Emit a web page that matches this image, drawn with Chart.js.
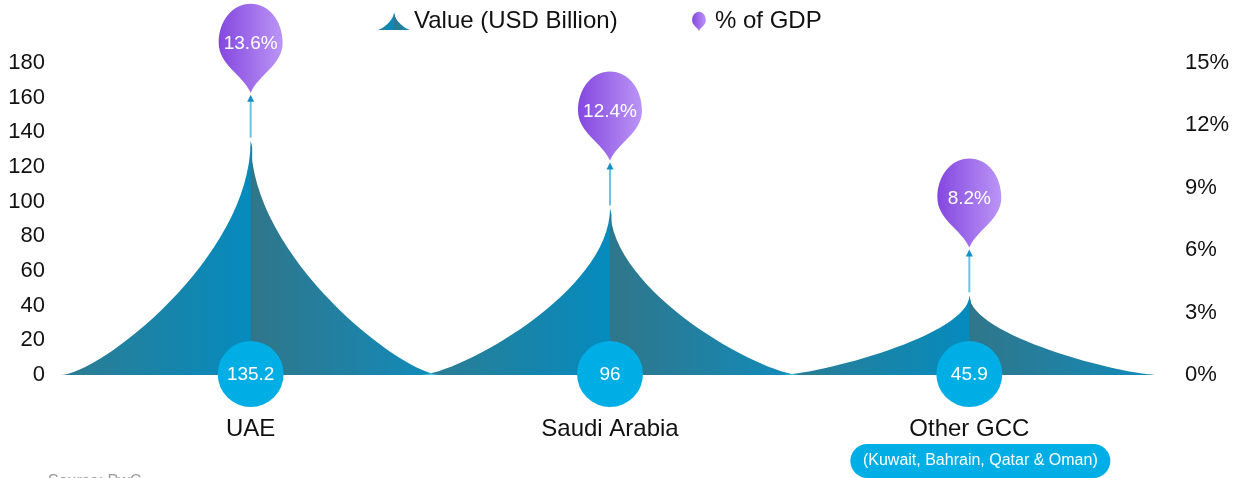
<!DOCTYPE html>
<html>
<head>
<meta charset="utf-8">
<script src="https://cdn.jsdelivr.net/npm/chart.js@4.4.1/dist/chart.umd.min.js"></script>
<style>
html,body{margin:0;padding:0;background:#fff;overflow:hidden}
#wrap{position:relative;width:1251px;height:478px}
</style>
</head>
<body>
<div id="wrap"><canvas id="c" width="1251" height="478"></canvas></div>
<script>
const categories = ['UAE', 'Saudi Arabia', 'Other GCC'];
const subLabels = ['', '', '(Kuwait, Bahrain, Qatar & Oman)'];
const valueUSDbn = [135.2, 96, 45.9];
const gdpShare = [13.6, 12.4, 8.2];
const seriesNames = ['Value (USD Billion)', '% of GDP'];
const leftTicks = [0, 20, 40, 60, 80, 100, 120, 140, 160, 180];
const rightTicks = [0, 3, 6, 9, 12, 15];
const sourceNote = 'Source: PwC';

const FONT = '"Liberation Sans", Arial, Helvetica, sans-serif';
const TEXT = '#111111';
const CYAN = '#00aee6';

function spikeHalf(ctx, x, top, base, hw, dir, c0, c1) {
  const h = base - top;
  const ex = x + dir * hw;
  ctx.beginPath();
  ctx.moveTo(ex, base);
  ctx.bezierCurveTo(ex - dir * 0.2 * hw, base, x, base - 0.5 * h, x, top);
  if (dir < 0) {
    // extend under the right half so no seam shows between the halves
    ctx.lineTo(x + 1.5, top + 6);
    ctx.lineTo(x + 1.5, base);
  }
  ctx.lineTo(x, base);
  ctx.closePath();
  const g = ctx.createLinearGradient(ex, 0, x, 0);
  g.addColorStop(0, c0);
  g.addColorStop(1, c1);
  ctx.fillStyle = g;
  ctx.fill();
}
function drawSpike(ctx, x, top, base, hw) {
  spikeHalf(ctx, x, top, base, hw, -1, 'rgb(46,124,145)', 'rgb(5,139,190)');
  spikeHalf(ctx, x, top, base, hw, 1, 'rgb(16,140,188)', 'rgb(48,118,138)');
}
function drawBalloon(ctx, cx, tip, s) {
  const hw = 32 * s, cy = tip - 50 * s, top = tip - 89 * s;
  ctx.beginPath();
  ctx.moveTo(cx, tip);
  ctx.bezierCurveTo(cx + 8 * s, tip - 18 * s, cx + hw, cy + 22 * s, cx + hw, cy);
  ctx.bezierCurveTo(cx + hw, cy - 22 * s, cx + 18 * s, top, cx, top);
  ctx.bezierCurveTo(cx - 18 * s, top, cx - hw, cy - 22 * s, cx - hw, cy);
  ctx.bezierCurveTo(cx - hw, cy + 22 * s, cx - 8 * s, tip - 18 * s, cx, tip);
  ctx.closePath();
  const g = ctx.createLinearGradient(cx - hw, 0, cx + hw, 0);
  g.addColorStop(0, '#8447df');
  g.addColorStop(1, '#bb95f6');
  ctx.fillStyle = g;
  ctx.fill();
  return cy;
}
function roundRect(ctx, x, y, w, h, r) {
  ctx.beginPath();
  ctx.moveTo(x + r, y);
  ctx.lineTo(x + w - r, y);
  ctx.arc(x + w - r, y + r, r, -Math.PI / 2, Math.PI / 2);
  ctx.lineTo(x + r, y + h);
  ctx.arc(x + r, y + r, r, Math.PI / 2, Math.PI * 1.5);
  ctx.closePath();
}

const decor = {
  id: 'decor',
  afterDatasetsDraw(chart) {
    const ctx = chart.ctx;
    const meta = chart.getDatasetMeta(0);
    const W = chart.width, H = chart.height;
    ctx.save();
    ctx.globalCompositeOperation = 'screen';
    meta.data.forEach((bar) => {
      const off = document.createElement('canvas');
      off.width = W; off.height = H;
      const octx = off.getContext('2d');
      drawSpike(octx, bar.x, bar.y, bar.base, bar.width * 0.53);
      ctx.drawImage(off, 0, 0);
    });
    ctx.restore();

    ctx.save();
    meta.data.forEach((bar, i) => {
      const x = bar.x, y = bar.y;
      ctx.strokeStyle = '#6cc4e4';
      ctx.lineWidth = 2;
      ctx.beginPath();
      ctx.moveTo(x, y - 3);
      ctx.lineTo(x, y - 40);
      ctx.stroke();
      ctx.fillStyle = '#1b8fc2';
      ctx.beginPath();
      ctx.moveTo(x, y - 46);
      ctx.lineTo(x + 3.5, y - 39);
      ctx.lineTo(x - 3.5, y - 39);
      ctx.closePath();
      ctx.fill();
      const cy = drawBalloon(ctx, x, y - 48, 1);
      ctx.fillStyle = '#ffffff';
      ctx.font = '19px ' + FONT;
      ctx.textAlign = 'center';
      ctx.textBaseline = 'middle';
      ctx.fillText(gdpShare[i] + '%', x, cy + 1);
      ctx.fillStyle = CYAN;
      ctx.beginPath();
      ctx.arc(x, bar.base - 1, 33, 0, Math.PI * 2);
      ctx.fill();
      ctx.fillStyle = '#ffffff';
      ctx.font = '19px ' + FONT;
      ctx.fillText(String(valueUSDbn[i]), x, bar.base);
      if (subLabels[i]) {
        ctx.font = '16px ' + FONT;
        const pw = 260, ph = 34, px = x + 11 - pw / 2, py = 444;
        ctx.fillStyle = CYAN;
        roundRect(ctx, px, py, pw, ph, ph / 2);
        ctx.fill();
        ctx.fillStyle = '#ffffff';
        ctx.fillText(subLabels[i], x + 11, py + 17);
      }
    });
    ctx.restore();
  },
  afterDraw(chart) {
    const ctx = chart.ctx;
    ctx.save();
    drawSpike(ctx, 394, 12, 30, 16.5);
    ctx.fillStyle = TEXT;
    ctx.font = '24px ' + FONT;
    ctx.textAlign = 'left';
    ctx.textBaseline = 'middle';
    ctx.fillText(seriesNames[0], 414, 21);
    drawBalloon(ctx, 699, 31, 0.215);
    ctx.fillStyle = TEXT;
    ctx.fillText(seriesNames[1], 715, 21);
    ctx.fillStyle = '#9a9a9a';
    ctx.font = '16px ' + FONT;
    ctx.textBaseline = 'top';
    ctx.fillText(sourceNote, 48, 474);
    ctx.restore();
  }
};

new Chart(document.getElementById('c'), {
  data: {
    labels: categories,
    datasets: [
      {
        type: 'bar',
        label: seriesNames[0],
        data: valueUSDbn,
        yAxisID: 'y',
        backgroundColor: 'rgba(0,0,0,0)',
        borderWidth: 0,
        barPercentage: 1,
        categoryPercentage: 1
      },
      {
        type: 'line',
        label: seriesNames[1],
        data: gdpShare,
        yAxisID: 'y1',
        showLine: false,
        pointRadius: 0,
        borderColor: 'rgba(0,0,0,0)',
        backgroundColor: 'rgba(0,0,0,0)'
      }
    ]
  },
  options: {
    responsive: false,
    animation: false,
    events: [],
    devicePixelRatio: 1,
    layout: { padding: { top: 63, left: 0, right: 0, bottom: 0 } },
    plugins: { legend: { display: false }, tooltip: { enabled: false } },
    scales: {
      x: {
        type: 'category',
        grid: { display: false },
        border: { display: false },
        ticks: { color: TEXT, font: { family: FONT, size: 24 }, padding: 32, maxRotation: 0 },
        afterFit(s) { s.height = 103; }
      },
      y: {
        position: 'left',
        min: 0, max: 180,
        grid: { display: false },
        border: { display: false },
        afterBuildTicks(s) { s.ticks = leftTicks.map(v => ({ value: v })); },
        ticks: { color: TEXT, font: { family: FONT, size: 22 }, padding: 18 },
        afterFit(s) { s.width = 71; }
      },
      y1: {
        position: 'right',
        min: 0, max: 15,
        grid: { display: false },
        border: { display: false },
        afterBuildTicks(s) { s.ticks = rightTicks.map(v => ({ value: v })); },
        ticks: { color: TEXT, font: { family: FONT, size: 22 }, padding: 28, callback: v => v + '%' },
        afterFit(s) { s.width = 102; }
      }
    }
  },
  plugins: [decor]
});
</script>
</body>
</html>
